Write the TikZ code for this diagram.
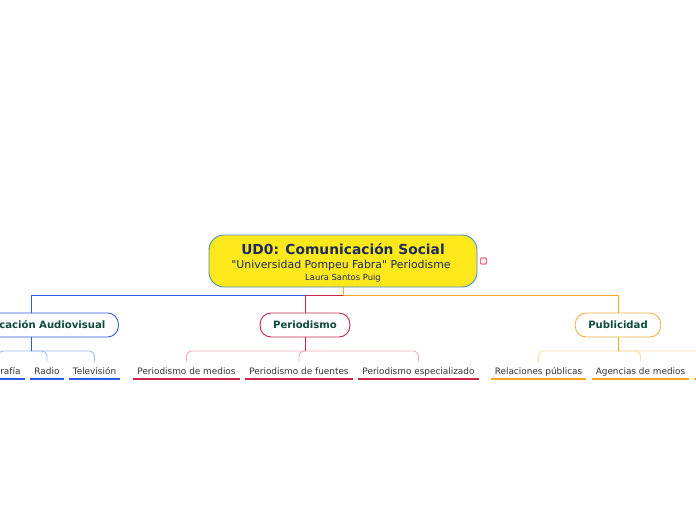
\documentclass[tikz,border=0pt]{standalone}
\usepackage{fontspec}
\setmainfont{DejaVu Sans}
\begin{document}
\begin{tikzpicture}[x=1pt,y=-1pt,
  rootbox/.style={draw=rootborder, fill=rootfill, line width=0.9pt, rounded corners=15pt,
    minimum width=268pt, minimum height=52pt, inner sep=0pt},
  roottxt/.style={anchor=base, inner sep=0pt, text=roottext},
  childbox/.style={draw=#1, fill=white, line width=0.9pt, rounded corners=11pt,
    minimum height=24pt, inner xsep=13pt, inner ysep=0pt,
    font=\fontsize{10.1}{12}\selectfont\bfseries, text=childtext},
  leafbox/.style={anchor=south, inner xsep=4pt, inner ysep=2.5pt, text height=7pt, text depth=2pt,
    font=\fontsize{8.9}{10}\selectfont, text=leaftext},
  uline/.style={draw=#1, line width=1.6pt},
  mainline/.style={draw=#1, line width=0.9pt},
  bracket/.style={draw=#1, line width=0.9pt, rounded corners=5pt}
]
\definecolor{rootfill}{HTML}{FDE81C}
\definecolor{rootborder}{HTML}{4A90C8}
\definecolor{roottext}{HTML}{1C2B5A}
\definecolor{cblue}{HTML}{2D5BE3}
\definecolor{lblue}{HTML}{A3BAF5}
\definecolor{cred}{HTML}{C8264A}
\definecolor{lred}{HTML}{F2AEBC}
\definecolor{corange}{HTML}{F5A623}
\definecolor{lorange}{HTML}{FBDCA4}
\definecolor{childtext}{HTML}{0E4A3A}
\definecolor{leaftext}{HTML}{333333}
\definecolor{pinkmark}{HTML}{F06C80}
\clip (0,0) rectangle (696,520);
\fill[white] (0,0) rectangle (696,520);

% root
\node[rootbox] (root) at (343,261) {};
\node[roottxt, font=\fontsize{13.8}{16}\selectfont\bfseries] (t1) at (343,254) {UD0: Comunicación Social};
\node[roottxt, font=\fontsize{10.9}{13}\selectfont] (t2) at (341,268) {\textquotedbl Universidad Pompeu Fabra\textquotedbl\ Periodisme};
\node[roottxt, font=\fontsize{8.4}{10}\selectfont] (t3) at (343,280) {Laura Santos Puig};
\node[draw=pinkmark, fill=white, line width=1.2pt, rounded corners=1pt, minimum size=6pt, inner sep=0pt] (mark) at (483.5,261) {};

% children
\node[childbox=cblue] (aud) at (31,325) {Comunicación Audiovisual};
\node[childbox=cred] (per) at (305,325) {Periodismo};
\node[childbox=corange!85!white] (pub) at (618,325) {Publicidad};

% root connectors
\coordinate (rj) at (343,295);
\draw[mainline=cblue] (root.south) -- (rj) -| (aud.north);
\draw[mainline=cred] (rj) -| (per.north);
\draw[mainline=corange] (root.south) -- (rj) -| (pub.north);

% leaves
\node[leafbox] (foto) at (-2,379) {Fotografía};
\node[leafbox] (radio) at (47,379) {Radio};
\node[leafbox] (tele) at (94.5,379) {Televisión};
\node[leafbox] (pmed) at (186.5,379) {Periodismo de medios};
\node[leafbox] (pfue) at (299,379) {Periodismo de fuentes};
\node[leafbox] (pesp) at (418.5,379) {Periodismo especializado};
\node[leafbox] (rel) at (538.5,379) {Relaciones públicas};
\node[leafbox] (age) at (640.5,379) {Agencias de medios};
\coordinate (pub3) at (740,365);

% underlines
\foreach \n in {foto,radio,tele} \draw[uline=cblue] (\n.south west) -- (\n.south east);
\foreach \n in {pmed,pfue,pesp} \draw[uline=cred] (\n.south west) -- (\n.south east);
\foreach \n in {rel,age} \draw[uline=corange] (\n.south west) -- (\n.south east);
\coordinate (pub3u) at (694,379);
\draw[uline=corange] (pub3u) -- ++(20,0);

% brackets
\coordinate (aj) at (31,351);
\coordinate (pj) at (305,351);
\coordinate (uj) at (618,351);
\foreach \n in {foto,radio,tele} \draw[bracket=lblue] (aj) -| ([yshift=3pt]\n.north);
\foreach \n in {pmed,pfue,pesp} \draw[bracket=lred] (pj) -| ([yshift=3pt]\n.north);
\foreach \n in {rel,age,pub3} \draw[bracket=lorange] (uj) -| ([yshift=3pt]\n.north);
\draw[mainline=cblue] (aud.south) -- (aj);
\draw[mainline=cred] (per.south) -- (pj);
\draw[mainline=corange] (pub.south) -- (uj);
\end{tikzpicture}
\end{document}
